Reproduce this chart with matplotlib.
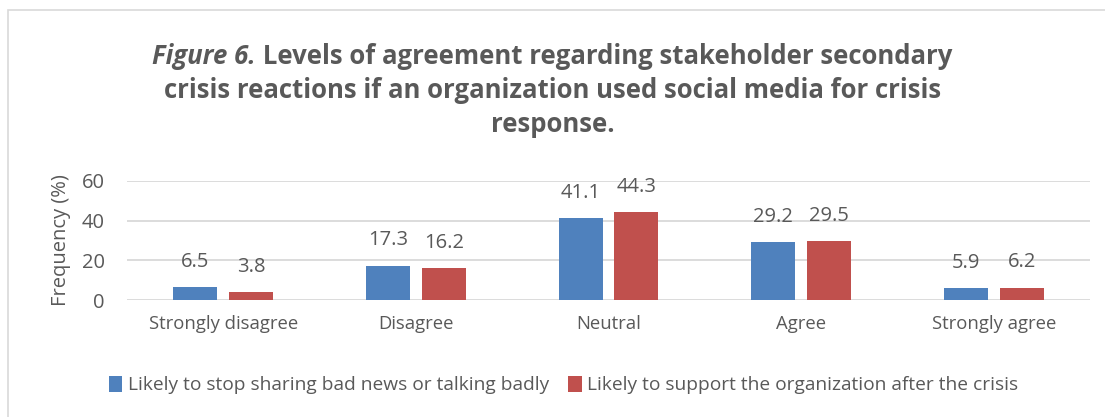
import numpy as np
import matplotlib.pyplot as plt
from matplotlib.patches import Rectangle

# data
kategoriler = ['Strongly disagree', 'Disagree', 'Neutral', 'Agree', 'Strongly agree']
durdurma = [6.5, 17.3, 41.1, 29.2, 5.9]
destek = [3.8, 16.2, 44.3, 29.5, 6.2]
seri_adlari = ['Likely to stop sharing bad news or talking badly',
               'Likely to support the organization after the crisis']
y_ticks = [0, 20, 40, 60]
baslik_italik = 'Figure 6.'
baslik_satirlar = [' Levels of agreement regarding stakeholder secondary',
                   'crisis reactions if an organization used social media for crisis',
                   'response.']

MAVI = '#4F81BD'
KIRMIZI = '#C0504D'
YAZI = '#595959'

plt.rcParams['font.family'] = ['Open Sans', 'DejaVu Sans']

fig = plt.figure(figsize=(11.05, 4.17), dpi=100)
fig.patches.append(Rectangle((8/1105, -0.1), 1.1, 1 - 10/417 + 0.1, transform=fig.transFigure,
                             fill=False, edgecolor='#D9D9D9', linewidth=1.2))

ax = fig.add_axes([127/1105, 1 - 300/417, 963/1105, 119/417])
x = np.arange(len(kategoriler))
w = 0.228
b1 = ax.bar(x - 0.145, durdurma, w, color=MAVI, label=seri_adlari[0], zorder=3)
b2 = ax.bar(x + 0.145, destek, w, color=KIRMIZI, label=seri_adlari[1], zorder=3)

for bars in (b1, b2):
    for r in bars:
        ax.annotate(f'{r.get_height():.1f}', (r.get_x() + r.get_width() / 2, r.get_height()),
                    xytext=(0, 11), textcoords='offset points',
                    ha='center', va='bottom', fontsize=14.5, color=YAZI)

ax.set_xlim(-0.5, len(kategoriler) - 0.5)
ax.set_ylim(0, 60)
ax.set_yticks(y_ticks)
ax.set_xticks(x)
ax.set_xticklabels(kategoriler, fontsize=13.3, color=YAZI)
ax.tick_params(axis='y', labelsize=14.5, colors=YAZI, length=0, pad=16)
ax.tick_params(axis='x', length=0, pad=11)
ax.grid(axis='y', color='#D9D9D9', linewidth=1.3, zorder=0)
for s in ax.spines.values():
    s.set_visible(False)
ax.set_ylabel('Frequency (%)', fontsize=14.5, color=YAZI)
ax.yaxis.set_label_coords(-56/963, 0.5)

# title: first line has an italic part
fs = 18.5
y1, y2, y3 = 1 - 56/417, 1 - 90/417, 1 - 125/417
t_it = fig.text(0, y1, baslik_italik, fontsize=fs, fontweight='bold', fontstyle='italic',
                color=YAZI, ha='left', va='center')
t_rest = fig.text(0, y1, baslik_satirlar[0], fontsize=fs, fontweight='bold',
                  color=YAZI, ha='left', va='center')
r = fig.canvas.get_renderer()
w_it = t_it.get_window_extent(r).width / fig.bbox.width
w_rest = t_rest.get_window_extent(r).width / fig.bbox.width
x0 = 0.5 - (w_it + w_rest) / 2
t_it.set_x(x0)
t_rest.set_x(x0 + w_it)
fig.text(0.5, y2, baslik_satirlar[1], fontsize=fs, fontweight='bold', color=YAZI, ha='center', va='center')
fig.text(0.5, y3, baslik_satirlar[2], fontsize=fs, fontweight='bold', color=YAZI, ha='center', va='center')

fig.legend(handles=[b1, b2], labels=seri_adlari, loc='center', bbox_to_anchor=(0.51, 1 - 385/417),
           ncol=2, frameon=False, fontsize=13.8, labelcolor=YAZI, handlelength=0.7, handleheight=0.9,
           handletextpad=0.3, columnspacing=1.0)

fig.savefig('out.png', dpi=100)
